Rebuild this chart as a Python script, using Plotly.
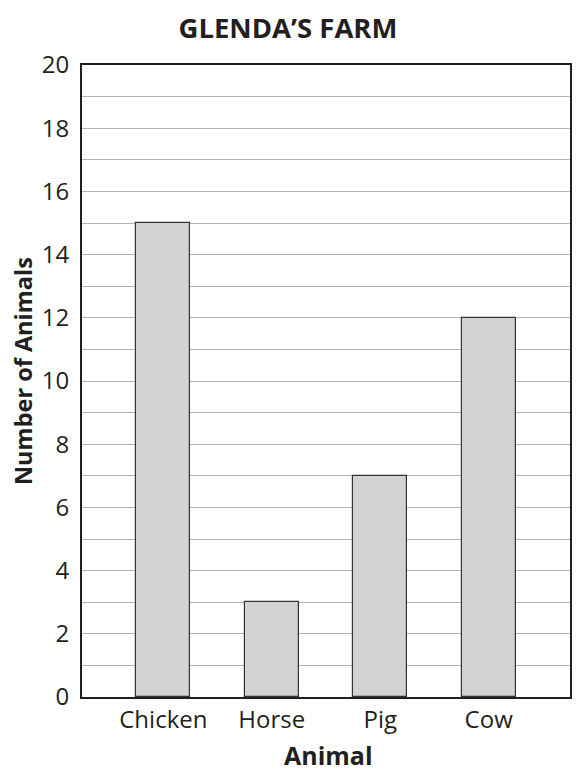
import plotly.graph_objects as go

animals = ["Chicken", "Horse", "Pig", "Cow"]
counts = [15, 3, 7, 12]
y_ticks = [0, 2, 4, 6, 8, 10, 12, 14, 16, 18, 20]

FONT = "Open Sans"
INK = "#231f20"

# page has an 8px body margin, so figure is 8px smaller than the window
W, H = 578, 774
L, R, T, B = 74, 16, 57, 85
PW, PH = W - L - R, H - T - B

fig = go.Figure(go.Bar(
    x=list(range(len(animals))),
    y=counts,
    width=0.5,
    marker=dict(color="#d3d3d3", line=dict(color="#333333", width=1.2)),
))

fig.update_layout(
    width=W, height=H,
    margin=dict(l=L, r=R, t=T, b=B, autoexpand=False),
    paper_bgcolor="white", plot_bgcolor="white",
    showlegend=False,
    font=dict(family=FONT, color=INK, size=24),
    title=dict(text="<b>GLENDA’S FARM</b>", x=(L + PW / 2 - 38) / W, xanchor="center",
               y=1 - 20 / H, yanchor="middle",
               font=dict(family=FONT, size=27.5, color=INK)),
    bargap=0,
    annotations=[
        dict(text="<b>Animal</b>", xref="paper", yref="paper",
             x=(285 - 8 + 43 - L) / PW, y=-(747 - (H - B)) / PH,
             xanchor="center", yanchor="middle", showarrow=False,
             font=dict(family=FONT, size=25, color=INK)),
        dict(text="<b>Number of Animals</b>", xref="paper", yref="paper",
             x=(15 - L) / PW, y=((H - B) - (371 - 8)) / PH,
             xanchor="center", yanchor="middle", showarrow=False, textangle=-90,
             font=dict(family=FONT, size=23.5, color=INK)),
    ],
)

fig.update_xaxes(
    range=[-0.75, 3.75], automargin=False,
    tickvals=list(range(len(animals))), ticktext=animals,
    showgrid=False, zeroline=False,
    showline=True, linecolor=INK, linewidth=2, mirror=True,
    ticks="", ticklen=0,
    tickfont=dict(family=FONT, size=24, color=INK),
)

fig.update_yaxes(
    range=[0, 20], automargin=False,
    tickvals=y_ticks, ticktext=[str(v) for v in y_ticks],
    showgrid=True, gridcolor="#b3b3b3", gridwidth=1.2,
    minor=dict(dtick=1, showgrid=True, gridcolor="#b3b3b3", gridwidth=1.2),
    zeroline=False,
    showline=True, linecolor=INK, linewidth=2, mirror=True,
    ticks="outside", ticklen=6, tickcolor="rgba(0,0,0,0)",
    tickfont=dict(family=FONT, size=24, color=INK),
)

fig.write_html("out.html")
